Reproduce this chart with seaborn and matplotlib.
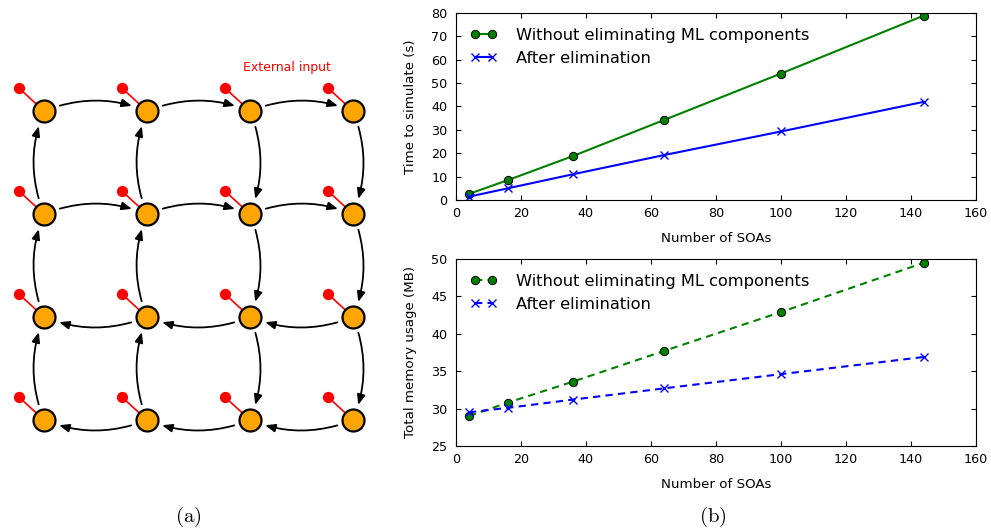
import numpy as np
import pandas as pd
import seaborn as sns
import matplotlib.pyplot as plt
from matplotlib.patches import FancyArrowPatch

# values
soas = [4, 16, 36, 64, 100, 144]
time_full = [2.6, 8.5, 18.8, 34.2, 54.1, 78.9]
time_elim = [1.4, 5.0, 11.0, 19.2, 29.3, 42.0]
mem_full = [29.0, 30.8, 33.6, 37.7, 42.9, 49.5]
mem_elim = [29.5, 30.1, 31.2, 32.7, 34.6, 36.9]
legend_labels = ['Without eliminating ML components', 'After elimination']

# 4x4 grid of SOA nodes, (column, row) with row 0 at the top
grid_cols = [0, 1, 2, 3]
grid_rows = [0, 1, 2, 3]
node_col = [c for r in grid_rows for c in grid_cols]
node_row = [r for r in grid_rows for c in grid_cols]

# links of the loop: rows 0-1 go right, rows 2-3 go left,
# columns 0-1 go up, columns 2-3 go down
links = []
for r in grid_rows:
    for c in grid_cols[:-1]:
        if r < 2:
            links.append(((c, r), (c + 1, r)))
        else:
            links.append(((c + 1, r), (c, r)))
for c in grid_cols:
    for r in grid_rows[:-1]:
        if c < 2:
            links.append(((c, r + 1), (c, r)))
        else:
            links.append(((c, r), (c, r + 1)))

sns.set_theme(style='ticks')
plt.rcParams['font.family'] = ['DejaVu Sans']
plt.rcParams['mathtext.fontset'] = 'cm'
plt.rcParams['xtick.direction'] = 'in'
plt.rcParams['ytick.direction'] = 'in'
plt.rcParams['xtick.top'] = True
plt.rcParams['ytick.right'] = True
plt.rcParams['axes.edgecolor'] = 'black'
plt.rcParams['axes.linewidth'] = 0.8
plt.rcParams['text.color'] = 'black'
plt.rcParams['axes.labelcolor'] = 'black'
plt.rcParams['xtick.color'] = 'black'
plt.rcParams['ytick.color'] = 'black'

fig = plt.figure(figsize=(9.91, 5.32), dpi=100)

# ---- (a) network diagram
ax_net = fig.add_axes([0.0, 0.1541, 0.3835, 0.7425])
ax_net.set_xlim(-0.427, 3.262)
ax_net.set_ylim(3.291, -0.544)
ax_net.axis('off')

in_dx, in_dy = -0.24, -0.22
for c, r in zip(node_col, node_row):
    ax_net.plot([c + in_dx, c], [r + in_dy, r], color='red', lw=1.2, zorder=1)
sns.scatterplot(x=[c + in_dx for c in node_col], y=[r + in_dy for r in node_row],
                s=66, color='red', linewidth=0, ax=ax_net, zorder=2, legend=False)
sns.scatterplot(x=node_col, y=node_row, s=250, color='#FFA500', edgecolor='black',
                linewidth=1.6, ax=ax_net, zorder=3, legend=False)

for (c1, r1), (c2, r2) in links:
    arr = FancyArrowPatch((c1, r1), (c2, r2), connectionstyle='arc3,rad=-0.2',
                          arrowstyle='-|>,head_length=0.5,head_width=0.2',
                          mutation_scale=12, lw=1.3, color='black',
                          shrinkA=12, shrinkB=11.5, zorder=2)
    ax_net.add_patch(arr)

ax_net.text(2.36, -0.42, 'External input', color='red', fontsize=9,
            ha='center', va='center')

# ---- (b) simulation time and memory
ax_t = fig.add_axes([0.4601, 0.6241, 0.5247, 0.3515])
ax_m = fig.add_axes([0.4601, 0.1617, 0.5247, 0.3515])

panels = [(ax_t, time_full, time_elim, '-', 'Time to simulate (s)', (0, 80), 10),
          (ax_m, mem_full, mem_elim, (0, (3.5, 2.5)), 'Total memory usage (MB)', (25, 50), 5)]

for ax, y_full, y_elim, ls, ylab, ylim, ystep in panels:
    sns.lineplot(x=soas, y=y_full, ax=ax, color='green', linewidth=1.5, linestyle=ls,
                 marker='o', markersize=6, markeredgecolor='black', markeredgewidth=0.7,
                 label=legend_labels[0])
    sns.lineplot(x=soas, y=y_elim, ax=ax, color='blue', linewidth=1.5, linestyle=ls,
                 marker='x', markersize=6, markeredgecolor='blue', markeredgewidth=1.0,
                 label=legend_labels[1])
    ax.set_xlim(0, 160)
    ax.set_ylim(*ylim)
    ax.set_xticks(np.arange(0, 161, 20))
    ax.set_yticks(np.arange(ylim[0], ylim[1] + 0.1, ystep))
    ax.tick_params(labelsize=9.2, length=3.5, width=0.8, color='black')
    ax.tick_params(axis='x', pad=5)
    ax.tick_params(axis='y', pad=6)
    ax.set_xlabel('Number of SOAs', fontsize=9.6, labelpad=9)
    ax.set_ylabel(ylab, fontsize=9.6, labelpad=10)
    ax.legend(loc='upper left', bbox_to_anchor=(0.0, 1.0), numpoints=2, frameon=False,
              fontsize=11.7, handlelength=1.6, handletextpad=1.2, labelspacing=0.5,
              borderaxespad=0.45, borderpad=0.45)

fig.text(188 / 991, 1 - 517 / 532, r'$\mathrm{(a)}$', fontsize=15, ha='center', va='center')
fig.text(713 / 991, 1 - 517 / 532, r'$\mathrm{(b)}$', fontsize=15, ha='center', va='center')

fig.savefig('out.png', dpi=100)
